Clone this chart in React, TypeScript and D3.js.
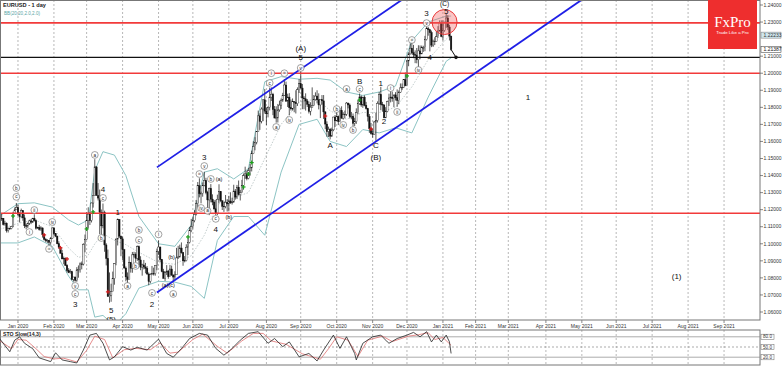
import React from 'react';
import * as d3 from 'd3';

type Bar = [number, number, number, number];

const title = 'EURUSD - 1 day';
const bandsLabel = 'BB(20,20,2.0,2.0)';
const stochLabel = 'STO Slow(14,3)';

// daily candles [open, high, low, close], one list per month
const dec2019: Bar[] = [
  [1.1121, 1.1155, 1.1118, 1.1144], [1.1144, 1.1174, 1.1134, 1.1150], [1.1150, 1.1151, 1.1107, 1.1113],
  [1.1113, 1.1135, 1.1106, 1.1121], [1.1121, 1.1125, 1.1066, 1.1078], [1.1078, 1.1095, 1.1066, 1.1090],
  [1.1090, 1.1095, 1.1083, 1.1089], [1.1089, 1.1103, 1.1085, 1.1100], [1.1100, 1.1188, 1.1097, 1.1178],
  [1.1178, 1.1213, 1.1175, 1.1199], [1.1199, 1.1239, 1.1200, 1.1213],
];
const jan2020: Bar[] = [
  [1.1213, 1.1229, 1.1163, 1.1172], [1.1172, 1.1185, 1.1125, 1.1159], [1.1159, 1.1206, 1.1150, 1.1195],
  [1.1195, 1.1197, 1.1135, 1.1152], [1.1152, 1.1172, 1.1092, 1.1106], [1.1106, 1.1118, 1.1085, 1.1104],
  [1.1104, 1.1124, 1.1093, 1.1121], [1.1121, 1.1141, 1.1110, 1.1134], [1.1134, 1.1146, 1.1115, 1.1127],
  [1.1127, 1.1152, 1.1122, 1.1150], [1.1150, 1.1173, 1.1130, 1.1136], [1.1136, 1.1143, 1.1083, 1.1091],
  [1.1091, 1.1100, 1.1087, 1.1096], [1.1096, 1.1111, 1.1077, 1.1084], [1.1084, 1.1103, 1.1076, 1.1093],
  [1.1093, 1.1095, 1.1036, 1.1054], [1.1054, 1.1058, 1.1019, 1.1026], [1.1026, 1.1033, 1.1009, 1.1019],
  [1.1019, 1.1027, 1.1005, 1.1020], [1.1020, 1.1022, 1.0992, 1.1008], [1.1008, 1.1040, 1.0994, 1.1031],
  [1.1031, 1.1096, 1.1028, 1.1093],
];
const feb2020: Bar[] = [
  [1.1093, 1.1097, 1.1050, 1.1059], [1.1059, 1.1063, 1.1039, 1.1045], [1.1045, 1.1047, 1.0997, 1.1000],
  [1.1000, 1.1015, 1.0970, 1.0980], [1.0980, 1.0982, 1.0942, 1.0945], [1.0945, 1.0964, 1.0911, 1.0911],
  [1.0911, 1.0925, 1.0880, 1.0915], [1.0915, 1.0920, 1.0870, 1.0874], [1.0874, 1.0880, 1.0832, 1.0842],
  [1.0842, 1.0857, 1.0828, 1.0831], [1.0831, 1.0852, 1.0825, 1.0836], [1.0836, 1.0842, 1.0786, 1.0791],
  [1.0791, 1.0806, 1.0778, 1.0805], [1.0805, 1.0807, 1.0778, 1.0786], [1.0786, 1.0863, 1.0777, 1.0847],
  [1.0847, 1.0873, 1.0801, 1.0848], [1.0848, 1.0891, 1.0831, 1.0882], [1.0882, 1.0896, 1.0850, 1.0881],
  [1.0881, 1.1003, 1.0873, 1.0996], [1.0996, 1.1054, 1.0950, 1.1026],
];
const mar2020: Bar[] = [
  [1.1026, 1.1185, 1.1024, 1.1137], [1.1137, 1.1214, 1.1091, 1.1174], [1.1174, 1.1187, 1.1110, 1.1136],
  [1.1136, 1.1242, 1.1125, 1.1239], [1.1239, 1.1356, 1.1212, 1.1284], [1.1284, 1.1496, 1.1284, 1.1451],
  [1.1451, 1.1453, 1.1302, 1.1282], [1.1282, 1.1356, 1.1254, 1.1268], [1.1268, 1.1318, 1.1056, 1.1185],
  [1.1185, 1.1201, 1.1053, 1.1105], [1.1105, 1.1236, 1.1091, 1.1184], [1.1184, 1.1194, 1.0953, 1.0993],
  [1.0993, 1.1003, 1.0873, 1.0914], [1.0914, 1.0966, 1.0696, 1.0690], [1.0690, 1.0832, 1.0655, 1.0698],
  [1.0698, 1.0766, 1.0660, 1.0721], [1.0721, 1.0837, 1.0734, 1.0796], [1.0796, 1.0887, 1.0760, 1.0884],
  [1.0884, 1.1033, 1.0874, 1.1027], [1.1027, 1.1148, 1.0990, 1.1142], [1.1142, 1.1144, 1.1033, 1.1045],
  [1.1045, 1.1048, 1.0927, 1.1029],
];
const apr2020: Bar[] = [
  [1.1029, 1.1042, 1.0905, 1.0965], [1.0965, 1.0970, 1.0854, 1.0858], [1.0858, 1.0867, 1.0780, 1.0806],
  [1.0806, 1.0832, 1.0768, 1.0792], [1.0792, 1.0926, 1.0796, 1.0890], [1.0890, 1.0889, 1.0831, 1.0857],
  [1.0857, 1.0952, 1.0830, 1.0935], [1.0935, 1.0953, 1.0920, 1.0938], [1.0938, 1.0950, 1.0891, 1.0915],
  [1.0915, 1.0990, 1.0900, 1.0983], [1.0983, 1.0990, 1.0875, 1.0905], [1.0905, 1.0927, 1.0845, 1.0863],
  [1.0863, 1.0883, 1.0813, 1.0876], [1.0876, 1.0905, 1.0850, 1.0864], [1.0864, 1.0888, 1.0827, 1.0856],
  [1.0856, 1.0869, 1.0818, 1.0823], [1.0823, 1.0832, 1.0757, 1.0779], [1.0779, 1.0827, 1.0768, 1.0820],
  [1.0820, 1.0870, 1.0816, 1.0824], [1.0824, 1.0860, 1.0814, 1.0825], [1.0825, 1.0875, 1.0813, 1.0874],
  [1.0874, 1.0972, 1.0845, 1.0955],
];
const may2020: Bar[] = [
  [1.0955, 1.1019, 1.0935, 1.0981], [1.0981, 1.0983, 1.0893, 1.0908], [1.0908, 1.0911, 1.0833, 1.0838],
  [1.0838, 1.0853, 1.0797, 1.0797], [1.0797, 1.0838, 1.0782, 1.0833], [1.0833, 1.0875, 1.0817, 1.0840],
  [1.0840, 1.0847, 1.0795, 1.0807], [1.0807, 1.0876, 1.0806, 1.0852], [1.0852, 1.0872, 1.0811, 1.0817],
  [1.0817, 1.0820, 1.0774, 1.0805], [1.0805, 1.0839, 1.0789, 1.0818], [1.0818, 1.0976, 1.0818, 1.0917],
  [1.0917, 1.0988, 1.0912, 1.0923], [1.0923, 1.0995, 1.0920, 1.0975], [1.0975, 1.1008, 1.0942, 1.0948],
  [1.0948, 1.0952, 1.0871, 1.0900], [1.0900, 1.0928, 1.0891, 1.0901], [1.0901, 1.0997, 1.0897, 1.0980],
  [1.0980, 1.1030, 1.0934, 1.1008], [1.1008, 1.1098, 1.1002, 1.1077], [1.1077, 1.1146, 1.1068, 1.1101],
];
const jun2020: Bar[] = [
  [1.1101, 1.1155, 1.1090, 1.1135], [1.1135, 1.1197, 1.1126, 1.1172], [1.1172, 1.1257, 1.1166, 1.1236],
  [1.1236, 1.1362, 1.1213, 1.1340], [1.1340, 1.1384, 1.1272, 1.1294], [1.1294, 1.1306, 1.1237, 1.1295],
  [1.1295, 1.1360, 1.1276, 1.1343], [1.1343, 1.1422, 1.1337, 1.1371], [1.1371, 1.1387, 1.1290, 1.1300],
  [1.1300, 1.1311, 1.1208, 1.1257], [1.1257, 1.1329, 1.1168, 1.1325], [1.1325, 1.1350, 1.1243, 1.1262],
  [1.1262, 1.1290, 1.1226, 1.1245], [1.1245, 1.1257, 1.1197, 1.1205], [1.1205, 1.1258, 1.1168, 1.1180],
  [1.1180, 1.1288, 1.1168, 1.1261], [1.1261, 1.1349, 1.1240, 1.1307], [1.1307, 1.1309, 1.1244, 1.1252],
  [1.1252, 1.1253, 1.1198, 1.1220], [1.1220, 1.1247, 1.1187, 1.1218], [1.1218, 1.1286, 1.1208, 1.1243],
  [1.1243, 1.1262, 1.1189, 1.1234],
];
const jul2020: Bar[] = [
  [1.1234, 1.1281, 1.1190, 1.1251], [1.1251, 1.1302, 1.1234, 1.1240], [1.1240, 1.1270, 1.1230, 1.1245],
  [1.1245, 1.1346, 1.1241, 1.1309], [1.1309, 1.1321, 1.1259, 1.1274], [1.1274, 1.1345, 1.1262, 1.1332],
  [1.1332, 1.1371, 1.1283, 1.1288], [1.1288, 1.1316, 1.1254, 1.1300], [1.1300, 1.1375, 1.1299, 1.1341],
  [1.1341, 1.1412, 1.1317, 1.1399], [1.1399, 1.1452, 1.1380, 1.1410], [1.1410, 1.1428, 1.1372, 1.1383],
  [1.1383, 1.1445, 1.1378, 1.1428], [1.1428, 1.1468, 1.1399, 1.1445], [1.1445, 1.1546, 1.1424, 1.1528],
  [1.1528, 1.1601, 1.1526, 1.1570], [1.1570, 1.1625, 1.1548, 1.1595], [1.1595, 1.1659, 1.1583, 1.1657],
  [1.1657, 1.1781, 1.1656, 1.1750], [1.1750, 1.1765, 1.1668, 1.1718], [1.1718, 1.1800, 1.1706, 1.1790],
  [1.1790, 1.1848, 1.1719, 1.1844], [1.1844, 1.1908, 1.1763, 1.1778],
];
const aug2020: Bar[] = [
  [1.1778, 1.1800, 1.1696, 1.1762], [1.1762, 1.1806, 1.1741, 1.1800], [1.1800, 1.1916, 1.1782, 1.1860],
  [1.1860, 1.1917, 1.1837, 1.1877], [1.1877, 1.1885, 1.1754, 1.1787], [1.1787, 1.1808, 1.1737, 1.1737],
  [1.1737, 1.1806, 1.1710, 1.1738], [1.1738, 1.1820, 1.1711, 1.1785], [1.1785, 1.1839, 1.1774, 1.1813],
  [1.1813, 1.1852, 1.1790, 1.1842], [1.1842, 1.1885, 1.1832, 1.1871], [1.1871, 1.1966, 1.1868, 1.1931],
  [1.1931, 1.1951, 1.1833, 1.1836], [1.1836, 1.1880, 1.1802, 1.1860], [1.1860, 1.1883, 1.1753, 1.1798],
  [1.1798, 1.1846, 1.1781, 1.1791], [1.1791, 1.1852, 1.1781, 1.1834], [1.1834, 1.1833, 1.1771, 1.1830],
  [1.1830, 1.1900, 1.1764, 1.1821], [1.1821, 1.1917, 1.1808, 1.1903], [1.1903, 1.1966, 1.1884, 1.1938],
];
const sep2020: Bar[] = [
  [1.1938, 1.2011, 1.1911, 1.1913], [1.1913, 1.1937, 1.1789, 1.1855], [1.1855, 1.1866, 1.1789, 1.1850],
  [1.1850, 1.1882, 1.1781, 1.1837], [1.1837, 1.1849, 1.1802, 1.1818], [1.1818, 1.1835, 1.1764, 1.1777],
  [1.1777, 1.1830, 1.1753, 1.1801], [1.1801, 1.1917, 1.1800, 1.1812], [1.1812, 1.1872, 1.1810, 1.1845],
  [1.1845, 1.1888, 1.1839, 1.1866], [1.1866, 1.1900, 1.1823, 1.1844], [1.1844, 1.1882, 1.1788, 1.1814],
  [1.1814, 1.1828, 1.1737, 1.1845], [1.1845, 1.1872, 1.1816, 1.1838], [1.1838, 1.1872, 1.1732, 1.1773],
  [1.1773, 1.1777, 1.1672, 1.1702], [1.1702, 1.1718, 1.1627, 1.1658], [1.1658, 1.1687, 1.1626, 1.1671],
  [1.1671, 1.1679, 1.1612, 1.1631], [1.1631, 1.1681, 1.1627, 1.1668], [1.1668, 1.1745, 1.1660, 1.1743],
  [1.1743, 1.1755, 1.1685, 1.1721],
];
const oct2020: Bar[] = [
  [1.1721, 1.1770, 1.1720, 1.1747], [1.1747, 1.1752, 1.1696, 1.1716], [1.1716, 1.1797, 1.1714, 1.1781],
  [1.1781, 1.1806, 1.1737, 1.1735], [1.1735, 1.1771, 1.1728, 1.1758], [1.1758, 1.1781, 1.1735, 1.1759],
  [1.1759, 1.1831, 1.1750, 1.1825], [1.1825, 1.1827, 1.1794, 1.1814], [1.1814, 1.1823, 1.1735, 1.1746],
  [1.1746, 1.1773, 1.1730, 1.1747], [1.1747, 1.1764, 1.1688, 1.1706], [1.1706, 1.1739, 1.1690, 1.1716],
  [1.1716, 1.1794, 1.1703, 1.1769], [1.1769, 1.1842, 1.1760, 1.1821], [1.1821, 1.1881, 1.1814, 1.1861],
  [1.1861, 1.1870, 1.1803, 1.1814], [1.1814, 1.1861, 1.1797, 1.1860], [1.1860, 1.1870, 1.1806, 1.1812],
  [1.1812, 1.1832, 1.1787, 1.1793], [1.1793, 1.1797, 1.1717, 1.1746], [1.1746, 1.1761, 1.1650, 1.1675],
  [1.1675, 1.1708, 1.1640, 1.1646],
];
const nov2020: Bar[] = [
  [1.1646, 1.1673, 1.1622, 1.1641], [1.1641, 1.1720, 1.1640, 1.1714], [1.1714, 1.1769, 1.1603, 1.1722],
  [1.1722, 1.1835, 1.1711, 1.1823], [1.1823, 1.1890, 1.1814, 1.1876], [1.1876, 1.1920, 1.1783, 1.1817],
  [1.1817, 1.1832, 1.1775, 1.1814], [1.1814, 1.1816, 1.1745, 1.1738], [1.1738, 1.1801, 1.1744, 1.1776],
  [1.1776, 1.1839, 1.1771, 1.1834], [1.1834, 1.1880, 1.1808, 1.1855], [1.1855, 1.1895, 1.1829, 1.1860],
  [1.1860, 1.1892, 1.1833, 1.1852], [1.1852, 1.1871, 1.1801, 1.1873], [1.1873, 1.1889, 1.1840, 1.1856],
  [1.1856, 1.1905, 1.1803, 1.1840], [1.1840, 1.1899, 1.1818, 1.1889], [1.1889, 1.1940, 1.1885, 1.1914],
  [1.1914, 1.1940, 1.1901, 1.1917], [1.1917, 1.1966, 1.1913, 1.1962], [1.1962, 1.2004, 1.1924, 1.1927],
];
const dec2020: Bar[] = [
  [1.1927, 1.2078, 1.1924, 1.2072], [1.2072, 1.2123, 1.2041, 1.2113], [1.2113, 1.2176, 1.2110, 1.2147],
  [1.2147, 1.2178, 1.2111, 1.2120], [1.2120, 1.2166, 1.2088, 1.2109], [1.2109, 1.2134, 1.2059, 1.2106],
  [1.2106, 1.2148, 1.2058, 1.2079], [1.2079, 1.2164, 1.2035, 1.2131], [1.2131, 1.2163, 1.2082, 1.2113],
  [1.2113, 1.2162, 1.2114, 1.2150], [1.2150, 1.2161, 1.2125, 1.2150], [1.2150, 1.2219, 1.2129, 1.2197],
  [1.2197, 1.2273, 1.2192, 1.2261], [1.2261, 1.2271, 1.2220, 1.2255], [1.2255, 1.2256, 1.2128, 1.2238],
  [1.2238, 1.2250, 1.2153, 1.2165], [1.2165, 1.2197, 1.2154, 1.2188], [1.2188, 1.2211, 1.2165, 1.2187],
  [1.2187, 1.2248, 1.2187, 1.2214], [1.2214, 1.2276, 1.2208, 1.2248], [1.2248, 1.2310, 1.2244, 1.2296],
  [1.2296, 1.2310, 1.2211, 1.2216],
];
const jan2021: Bar[] = [
  [1.2216, 1.2310, 1.2193, 1.2250], [1.2250, 1.2301, 1.2243, 1.2300], [1.2300, 1.2349, 1.2266, 1.2324],
  [1.2324, 1.2340, 1.2253, 1.2271], [1.2271, 1.2284, 1.2192, 1.2218], [1.2218, 1.2218, 1.2132, 1.2139],
];

// Bollinger bands [date, value]
const bbUpper: [string, number][] = [
  ['2019-12-16', 1.1165], ['2020-01-02', 1.1235], ['2020-01-16', 1.1240], ['2020-01-31', 1.1215],
  ['2020-02-14', 1.1140], ['2020-02-24', 1.1110], ['2020-03-03', 1.1140], ['2020-03-09', 1.1430],
  ['2020-03-16', 1.1540], ['2020-03-25', 1.1520], ['2020-04-03', 1.1400], ['2020-04-15', 1.1160],
  ['2020-05-01', 1.1000], ['2020-05-15', 1.0985], ['2020-05-29', 1.1110], ['2020-06-10', 1.1420],
  ['2020-06-22', 1.1440], ['2020-07-06', 1.1380], ['2020-07-17', 1.1440], ['2020-07-31', 1.1950],
  ['2020-08-14', 1.1980], ['2020-08-31', 1.1965], ['2020-09-15', 1.1970], ['2020-09-25', 1.1960],
  ['2020-10-09', 1.1890], ['2020-10-23', 1.1870], ['2020-11-06', 1.1890], ['2020-11-20', 1.1925],
  ['2020-12-04', 1.2190], ['2020-12-18', 1.2300], ['2021-01-06', 1.2335], ['2021-01-11', 1.2335],
];
const bbMiddle: [string, number][] = [
  ['2019-12-16', 1.1085], ['2020-01-02', 1.1120], ['2020-01-16', 1.1140], ['2020-01-31', 1.1100],
  ['2020-02-14', 1.0975], ['2020-02-24', 1.0920], ['2020-03-03', 1.0935], ['2020-03-09', 1.1000],
  ['2020-03-16', 1.1060], ['2020-03-25', 1.1020], ['2020-04-03', 1.0995], ['2020-04-15', 1.0950],
  ['2020-05-01', 1.0890], ['2020-05-15', 1.0880], ['2020-05-29', 1.0930], ['2020-06-10', 1.1050],
  ['2020-06-22', 1.1230], ['2020-07-06', 1.1270], ['2020-07-17', 1.1300], ['2020-07-31', 1.1500],
  ['2020-08-14', 1.1700], ['2020-08-31', 1.1830], ['2020-09-15', 1.1850], ['2020-09-25', 1.1780],
  ['2020-10-09', 1.1730], ['2020-10-23', 1.1770], ['2020-11-06', 1.1770], ['2020-11-20', 1.1800],
  ['2020-12-04', 1.1920], ['2020-12-18', 1.2080], ['2021-01-06', 1.2200], ['2021-01-11', 1.2223],
];
const bbLower: [string, number][] = [
  ['2019-12-16', 1.1005], ['2020-01-02', 1.1005], ['2020-01-16', 1.1040], ['2020-01-31', 1.0985],
  ['2020-02-14', 1.0810], ['2020-02-24', 1.0730], ['2020-03-03', 1.0730], ['2020-03-09', 1.0570],
  ['2020-03-16', 1.0580], ['2020-03-25', 1.0520], ['2020-04-03', 1.0590], ['2020-04-15', 1.0740],
  ['2020-05-01', 1.0780], ['2020-05-15', 1.0775], ['2020-05-29', 1.0750], ['2020-06-10', 1.0680],
  ['2020-06-22', 1.1020], ['2020-07-06', 1.1160], ['2020-07-17', 1.1160], ['2020-07-31', 1.1050],
  ['2020-08-14', 1.1420], ['2020-08-31', 1.1700], ['2020-09-15', 1.1730], ['2020-09-25', 1.1600],
  ['2020-10-09', 1.1570], ['2020-10-23', 1.1670], ['2020-11-06', 1.1650], ['2020-11-20', 1.1680],
  ['2020-12-04', 1.1650], ['2020-12-18', 1.1860], ['2021-01-06', 1.2070], ['2021-01-11', 1.2090],
];

const stochMain: [string, number][] = [
  ['2019-12-16', 73], ['2019-12-24', 36], ['2019-12-30', 70], ['2020-01-03', 80], ['2020-01-08', 61],
  ['2020-01-15', 45], ['2020-01-21', 18], ['2020-01-30', 7], ['2020-02-04', 33], ['2020-02-10', 12],
  ['2020-02-17', 7], ['2020-02-21', 3], ['2020-02-27', 41], ['2020-03-04', 85], ['2020-03-10', 90],
  ['2020-03-16', 61], ['2020-03-20', 12], ['2020-03-25', 21], ['2020-04-01', 51], ['2020-04-08', 41],
  ['2020-04-14', 49], ['2020-04-22', 41], ['2020-05-01', 73], ['2020-05-08', 31], ['2020-05-14', 20],
  ['2020-05-21', 45], ['2020-05-28', 75], ['2020-06-05', 90], ['2020-06-12', 85], ['2020-06-19', 46],
  ['2020-06-26', 26], ['2020-07-02', 41], ['2020-07-10', 70], ['2020-07-17', 90], ['2020-07-27', 95],
  ['2020-08-04', 61], ['2020-08-10', 75], ['2020-08-17', 51], ['2020-08-21', 65], ['2020-08-31', 21],
  ['2020-09-08', 31], ['2020-09-15', 9], ['2020-09-21', 41], ['2020-09-29', 85], ['2020-10-05', 46],
  ['2020-10-09', 80], ['2020-10-16', 31], ['2020-10-19', 12], ['2020-10-23', 61], ['2020-11-02', 80],
  ['2020-11-09', 85], ['2020-11-13', 65], ['2020-11-16', 61], ['2020-11-23', 75], ['2020-12-01', 85],
  ['2020-12-07', 93], ['2020-12-11', 80], ['2020-12-17', 95], ['2020-12-22', 65], ['2020-12-28', 85],
  ['2020-12-31', 65], ['2021-01-06', 85], ['2021-01-08', 65], ['2021-01-11', 31],
];
const stochSignal: [string, number][] = [
  ['2019-12-16', 68], ['2019-12-26', 45], ['2020-01-02', 72], ['2020-01-09', 70], ['2020-01-17', 45],
  ['2020-01-24', 22], ['2020-02-03', 15], ['2020-02-11', 17], ['2020-02-21', 6], ['2020-03-02', 40],
  ['2020-03-09', 82], ['2020-03-17', 72], ['2020-03-24', 18], ['2020-04-02', 42], ['2020-04-13', 46],
  ['2020-04-24', 42], ['2020-05-04', 62], ['2020-05-12', 32], ['2020-05-19', 35], ['2020-06-01', 72],
  ['2020-06-09', 88], ['2020-06-22', 52], ['2020-06-30', 32], ['2020-07-13', 68], ['2020-07-22', 90],
  ['2020-07-30', 90], ['2020-08-06', 68], ['2020-08-19', 58], ['2020-09-02', 30], ['2020-09-17', 14],
  ['2020-09-24', 45], ['2020-10-01', 80], ['2020-10-12', 70], ['2020-10-20', 22], ['2020-10-28', 70],
  ['2020-11-10', 82], ['2020-11-18', 66], ['2020-12-02', 82], ['2020-12-10', 86], ['2020-12-18', 92],
  ['2020-12-24', 72], ['2021-01-04', 78], ['2021-01-11', 55],
];

// horizontal levels
const redLevels = [1.2295, 1.2, 1.1179];
const blackLevel = 1.2093;
// channel lines [date, price]
const channelUpper: [string, number][] = [['2020-04-30', 1.1448], ['2020-11-30', 1.2444]];
const channelLower: [string, number][] = [['2020-04-30', 1.0715], ['2021-05-03', 1.2431]];

// Elliott wave labels: [text, date, price, kind]  kind: big / circle / small
const waveLabels: [string, string, number, string][] = [
  ['b', '2019-12-31', 1.1327, 'circle'], ['c', '2019-12-31', 1.1275, 'circle'],
  ['ii', '2020-01-16', 1.1198, 'circle'], ['i', '2020-01-13', 1.1069, 'circle'],
  ['iv', '2020-01-31', 1.1128, 'circle'], ['iii', '2020-01-29', 1.0970, 'circle'],
  ['v', '2020-02-20', 1.0753, 'circle'], ['c', '2020-02-20', 1.0706, 'circle'],
  ['3', '2020-02-20', 1.0647, 'big'], ['a', '2020-03-09', 1.1521, 'circle'],
  ['4', '2020-03-16', 1.1321, 'big'], ['c', '2020-03-16', 1.1269, 'circle'],
  ['b', '2020-03-13', 1.1034, 'circle'], ['5', '2020-03-23', 1.0610, 'big'],
  ['(5)', '2020-03-23', 1.0560, 'big'], ['1', '2020-03-27', 1.1187, 'big'],
  ['a', '2020-04-06', 1.0753, 'circle'], ['b', '2020-04-15', 1.1081, 'circle'],
  ['c', '2020-04-15', 1.1022, 'circle'], ['b', '2020-04-13', 1.0870, 'circle'],
  ['c', '2020-04-27', 1.0712, 'circle'], ['2', '2020-04-27', 1.0647, 'big'],
  ['i', '2020-05-01', 1.1055, 'circle'], ['(b)', '2020-05-13', 1.0923, 'small'],
  ['(a)(c)', '2020-05-11', 1.0755, 'small'], ['a', '2020-05-14', 1.0706, 'circle'],
  ['3', '2020-06-10', 1.1509, 'big'], ['v', '2020-06-10', 1.1456, 'circle'],
  ['iii', '2020-06-05', 1.1409, 'circle'], ['b', '2020-06-16', 1.1380, 'circle'],
  ['(a)', '2020-06-23', 1.1380, 'small'], ['iv', '2020-06-08', 1.1210, 'circle'],
  ['a', '2020-06-12', 1.1193, 'circle'], ['c', '2020-06-19', 1.1146, 'circle'],
  ['4', '2020-06-19', 1.1087, 'big'], ['(b)', '2020-07-01', 1.1157, 'small'],
  ['(A)', '2020-09-01', 1.2148, 'big'], ['5', '2020-09-01', 1.2095, 'big'],
  ['v', '2020-09-01', 1.2031, 'circle'], ['i', '2020-08-06', 1.2000, 'circle'],
  ['c', '2020-08-05', 1.1943, 'circle'], ['iii', '2020-08-18', 1.2000, 'circle'],
  ['a', '2020-08-11', 1.1685, 'circle'], ['iv', '2020-08-21', 1.1726, 'circle'],
  ['B', '2020-10-21', 1.1955, 'big'], ['c', '2020-10-21', 1.1908, 'circle'],
  ['a', '2020-10-09', 1.1908, 'circle'], ['b', '2020-10-01', 1.1790, 'circle'],
  ['iv', '2020-10-07', 1.1697, 'circle'], ['b', '2020-10-15', 1.1667, 'circle'],
  ['A', '2020-09-25', 1.1579, 'big'], ['C', '2020-11-04', 1.1579, 'big'],
  ['(B)', '2020-11-04', 1.1509, 'big'], ['1', '2020-11-09', 1.1943, 'big'],
  ['2', '2020-11-11', 1.1720, 'big'], ['i', '2020-11-17', 1.1913, 'circle'],
  ['ii', '2020-11-23', 1.1773, 'circle'], ['iii', '2020-12-04', 1.2195, 'circle'],
  ['iv', '2020-12-10', 1.2019, 'circle'], ['3', '2020-12-17', 1.2353, 'big'],
  ['v', '2020-12-17', 1.2294, 'circle'], ['4', '2020-12-21', 1.2095, 'big'],
  ['(C)', '2021-01-05', 1.2410, 'top'], ['5', '2021-01-06', 1.2363, 'big'],
  ['1', '2021-03-17', 1.1861, 'big'], ['(1)', '2021-07-22', 1.0812, 'big'],
];

// indicator arrows drawn on candles
const buyMarks: [string, number][] = [
  ['2019-12-27', 1.1163], ['2020-03-02', 1.1087], ['2020-03-06', 1.1187], ['2020-05-27', 1.1040],
  ['2020-07-14', 1.1333], ['2020-07-17', 1.1409], ['2020-07-21', 1.1476], ['2020-10-21', 1.1843],
  ['2020-12-01', 1.1984],
];
const sellMarks: [string, number][] = [
  ['2020-01-24', 1.1052], ['2020-02-07', 1.0976], ['2020-02-13', 1.0911], ['2020-03-19', 1.0718],
  ['2020-09-22', 1.1749], ['2020-10-30', 1.1673],
];

const priceTicks = d3.range(106, 125).map((v) => v / 100);
const boxedPrices = [1.22233, 1.21387];
const stochLevels = [80, 50, 20];

const holidays = ['2019-12-25', '2020-01-01', '2020-12-25', '2021-01-01'];
const fmt = d3.utcFormat('%Y-%m-%d');
const tradingDays = d3
  .utcDays(new Date(Date.UTC(2019, 11, 16)), new Date(Date.UTC(2021, 9, 20)))
  .filter((d) => d.getUTCDay() % 6 !== 0 && !holidays.includes(fmt(d)));
const dayIndex = new Map(tradingDays.map((d, i) => [fmt(d), i]));
const at = (s: string) => dayIndex.get(s) as number;

const bars: Bar[] = [
  ...dec2019, ...jan2020, ...feb2020, ...mar2020, ...apr2020, ...may2020, ...jun2020,
  ...jul2020, ...aug2020, ...sep2020, ...oct2020, ...nov2020, ...dec2020, ...jan2021,
];

const font = 'Liberation Sans, Arial, sans-serif';

export default function App() {
  const plotRight = 760;
  const plotBottom = 320;
  const stTop = 330;
  const stBottom = 365;

  const x = d3.scaleLinear().domain([0, 465]).range([0, plotRight]);
  const y = d3.scaleLinear().domain([1.06, 1.24]).range([312, 5]);
  const ys = d3.scaleLinear().domain([0, 100]).range([364, stTop]);

  const months = d3.utcMonths(new Date(Date.UTC(2020, 0, 1)), new Date(Date.UTC(2021, 9, 1))).map((m) => ({
    i: tradingDays.findIndex((d) => d >= m),
    label: d3.utcFormat('%b %Y')(m),
  }));

  const priceLine = d3.line<[string, number]>().x((d) => x(at(d[0]))).y((d) => y(d[1]));
  const stochLine = d3.line<[string, number]>().x((d) => x(at(d[0]))).y((d) => ys(d[1]));

  const last = bars[bars.length - 1];
  // axis labels hidden behind the boxed values
  const visibleTicks = priceTicks.filter((p) => boxedPrices.every((b) => Math.abs(y(p) - y(b)) > 5));

  const cross = (d: [string, number], color: string, k: string) => {
    const cx = x(at(d[0]));
    const cy = y(d[1]);
    return (
      <g key={k} stroke={color} strokeWidth={1.2}>
        <line x1={cx - 2} x2={cx + 2} y1={cy} y2={cy} />
        <line x1={cx} x2={cx} y1={cy - 2} y2={cy + 2} />
      </g>
    );
  };

  return (
    <div style={{ position: 'absolute', left: 0, top: 0 }}>
      <svg width={782} height={366} style={{ display: 'block', background: '#fff', fontFamily: font }}>
        <defs>
          <clipPath id="main">
            <rect x={0} y={0} width={plotRight} height={plotBottom} />
          </clipPath>
          <clipPath id="sto">
            <rect x={0} y={stTop} width={plotRight} height={stBottom - stTop} />
          </clipPath>
        </defs>

        {/* month grid */}
        {months.map((m) => (
          <g key={m.label}>
            <line x1={x(m.i)} x2={x(m.i)} y1={0} y2={plotBottom} stroke="#9a9a9a" strokeWidth={0.7} strokeDasharray="2,2" />
            <line x1={x(m.i)} x2={x(m.i)} y1={stTop} y2={stBottom} stroke="#9a9a9a" strokeWidth={0.7} strokeDasharray="2,2" />
            <line x1={x(m.i)} x2={x(m.i)} y1={plotBottom} y2={plotBottom + 3} stroke="#555" strokeWidth={0.7} />
            <text x={x(m.i)} y={327.5} fontSize={5} fill="#333" textAnchor="middle">{m.label}</text>
          </g>
        ))}

        <g clipPath="url(#main)">
          {/* bollinger bands */}
          <path d={priceLine(bbUpper) || ''} fill="none" stroke="#8cc4c4" strokeWidth={1} />
          <path d={priceLine(bbLower) || ''} fill="none" stroke="#8cc4c4" strokeWidth={1} />
          <path d={priceLine(bbMiddle) || ''} fill="none" stroke="#9aa" strokeWidth={0.6} strokeDasharray="1.5,1.5" />

          {/* candles */}
          {bars.map(([o, h, l, c], i) => {
            const cx = x(i);
            const top = y(Math.max(o, c));
            const hgt = Math.max(0.6, Math.abs(y(o) - y(c)));
            return (
              <g key={i}>
                <line x1={cx} x2={cx} y1={y(h)} y2={y(l)} stroke="#111" strokeWidth={0.7} />
                <rect x={cx - 0.75} y={top} width={1.5} height={hgt} fill={c >= o ? '#fff' : '#111'} stroke="#111" strokeWidth={0.4} />
              </g>
            );
          })}

          {/* levels */}
          {redLevels.map((p) => (
            <line key={p} x1={0} x2={plotRight} y1={y(p)} y2={y(p)} stroke="#f23a3a" strokeWidth={1.6} />
          ))}
          <line x1={0} x2={plotRight} y1={y(blackLevel)} y2={y(blackLevel)} stroke="#111" strokeWidth={1.4} />

          {/* channel */}
          <path d={priceLine(channelUpper) || ''} stroke="#1f1fe6" strokeWidth={1.8} fill="none" />
          <path d={priceLine(channelLower) || ''} stroke="#1f1fe6" strokeWidth={1.8} fill="none" />

          {/* target marker */}
          <line x1={x(bars.length - 1)} y1={y(last[3])} x2={x(bars.length + 2)} y2={y(blackLevel)} stroke="#111" strokeWidth={1} />
          <circle cx={x(bars.length + 2)} cy={y(blackLevel)} r={1.8} fill="#111" />

          {/* highlight */}
          <circle cx={x(at('2021-01-05'))} cy={y(1.23)} r={12.5} fill="rgba(240,90,90,0.35)" stroke="#e83a3a" strokeWidth={1} />

          {buyMarks.map((d, i) => cross(d, '#1aa01a', 'b' + i))}
          {sellMarks.map((d, i) => cross(d, '#d81e1e', 's' + i))}

          {waveLabels.map(([t, d, p, kind], i) => {
            const cx = x(at(d));
            const cy = y(p);
            if (kind === 'circle') {
              return (
                <g key={i}>
                  <circle cx={cx} cy={cy} r={3.4} fill="#fff" fillOpacity={0.8} stroke="#666" strokeWidth={0.6} />
                  <text x={cx} y={cy} dy="0.35em" fontSize={t.length > 2 ? 3.6 : 4.6} textAnchor="middle" fill="#222">{t}</text>
                </g>
              );
            }
            const size = kind === 'big' ? 8 : kind === 'top' ? 6.5 : 5.5;
            return (
              <text key={i} x={cx} y={cy} dy="0.35em" fontSize={size} textAnchor="middle" fill="#111">{t}</text>
            );
          })}
        </g>

        {/* frame and price axis */}
        <rect x={0.5} y={0.5} width={plotRight - 0.5} height={plotBottom - 0.5} fill="none" stroke="#777" strokeWidth={1} />
        {visibleTicks.map((p) => (
          <g key={p}>
            <line x1={plotRight} x2={plotRight + 3} y1={y(p)} y2={y(p)} stroke="#555" strokeWidth={0.7} />
            <text x={plotRight + 3.5} y={y(p)} dy="0.35em" fontSize={5} fill="#333">{p.toFixed(5)}</text>
          </g>
        ))}
        <rect x={plotRight + 1} y={y(boxedPrices[0]) - 3} width={20} height={6} fill="#cfe6ee" stroke="#777" strokeWidth={0.5} />
        <text x={plotRight + 3.5} y={y(boxedPrices[0])} dy="0.35em" fontSize={5} fill="#333">{boxedPrices[0].toFixed(5)}</text>
        <rect x={plotRight + 1} y={y(boxedPrices[1]) - 3} width={20} height={6} fill="#fff" stroke="#333" strokeWidth={0.5} />
        <text x={plotRight + 3.5} y={y(boxedPrices[1])} dy="0.35em" fontSize={5} fill="#111">{boxedPrices[1].toFixed(5)}</text>

        {/* logo */}
        <rect x={708} y={0} width={49} height={49} fill="#ee2e2e" />
        <text x={732.5} y={27} fontSize={15} fill="#fff" textAnchor="middle" fontFamily="Liberation Serif, serif">FxPro</text>
        <text x={732.5} y={34} fontSize={4.4} fill="#fff" textAnchor="middle">Trade Like a Pro</text>

        <text x={3} y={7} fontSize={5.6} fontWeight="bold" fill="#222">{title}</text>
        <text x={4} y={14.5} fontSize={4.6} fill="#5aa6a6">{bandsLabel}</text>

        {/* stochastic pane */}
        <rect x={0.5} y={stTop} width={plotRight - 0.5} height={stBottom - stTop} fill="none" stroke="#777" strokeWidth={1} />
        {stochLevels.map((v) => (
          <g key={v}>
            <line x1={0} x2={plotRight} y1={ys(v)} y2={ys(v)} stroke="#888" strokeWidth={0.7} strokeDasharray={v === 50 ? '2,2' : undefined} />
            <rect x={plotRight + 1} y={ys(v) - 2.6} width={13} height={5.2} fill="#fff" stroke="#666" strokeWidth={0.5} />
            <text x={plotRight + 3} y={ys(v)} dy="0.35em" fontSize={4.6} fill="#333">{v.toFixed(1)}</text>
          </g>
        ))}
        <g clipPath="url(#sto)">
          <path d={stochLine(stochSignal) || ''} fill="none" stroke="#e07070" strokeWidth={0.8} />
          <path d={stochLine(stochMain) || ''} fill="none" stroke="#222" strokeWidth={0.8} />
        </g>
        <text x={3} y={335.5} fontSize={5.2} fontWeight="bold" fill="#222">{stochLabel}</text>
      </svg>
    </div>
  );
}
